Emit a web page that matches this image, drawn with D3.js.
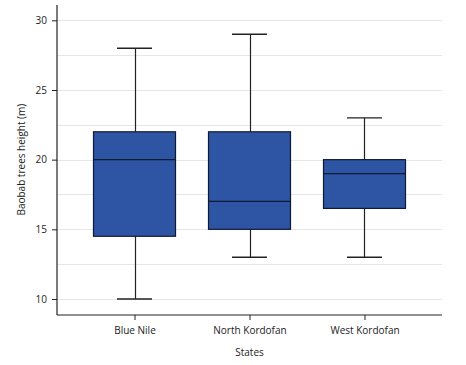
<!DOCTYPE html>
<html>
<head>
<meta charset="utf-8">
<script src="https://cdn.jsdelivr.net/npm/d3@7"></script>
<style>
  body { margin: 0; background: #fff; }
  text { font-family: "Open Sans", "Noto Sans", sans-serif; fill: #222; }
</style>
</head>
<body>
<div id="chart"></div>
<script>
// Chart data
var states = ["Blue Nile", "North Kordofan", "West Kordofan"];
var minVals = [10, 13, 13];
var q1Vals = [14.5, 15, 16.5];
var medianVals = [20, 17, 19];
var q3Vals = [22, 22, 20];
var maxVals = [28, 29, 23];
var yTicks = [10, 15, 20, 25, 30];
var gridVals = [10, 12.5, 15, 17.5, 20, 22.5, 25, 27.5, 30];

var width = 466,
    height = 365;

var margin = { left: 57, right: 24, top: 5, bottom: 50 };

var svg = d3.select("#chart").append("svg")
    .attr("width", width)
    .attr("height", height);

var x = d3.scalePoint()
    .domain(states)
    .range([margin.left, width - margin.right])
    .padding(0.674);

var y = d3.scaleLinear()
    .domain([8.85, 31.1])
    .range([height - margin.bottom, margin.top]);

// Grid lines
svg.append("g")
  .selectAll("line")
  .data(gridVals)
  .enter().append("line")
    .attr("x1", margin.left)
    .attr("x2", width - margin.right)
    .attr("y1", function(d) { return Math.round(y(d)) + 0.5; })
    .attr("y2", function(d) { return Math.round(y(d)) + 0.5; })
    .style("stroke", "#e6e6e6")
    .style("stroke-width", 1);

// Build the rows for the boxes
var rows = states.map(function(s, i) {
  return { name: s, min: minVals[i], q1: q1Vals[i], med: medianVals[i], q3: q3Vals[i], max: maxVals[i] };
});

var boxWidth = 82,
    capWidth = 35;

var boxes = svg.append("g").selectAll("g")
  .data(rows)
  .enter().append("g");

// whisker stems
boxes.append("line")
    .attr("x1", function(d) { return Math.round(x(d.name)) + 0.5; })
    .attr("x2", function(d) { return Math.round(x(d.name)) + 0.5; })
    .attr("y1", function(d) { return y(d.min); })
    .attr("y2", function(d) { return y(d.max); })
    .style("stroke", "#222")
    .style("stroke-width", 1.2);

// caps
["min", "max"].forEach(function(k) {
  boxes.append("line")
    .attr("x1", function(d) { return x(d.name) - capWidth / 2; })
    .attr("x2", function(d) { return x(d.name) + capWidth / 2; })
    .attr("y1", function(d) { return y(d[k]); })
    .attr("y2", function(d) { return y(d[k]); })
    .style("stroke", "#222")
    .style("stroke-width", 1.4);
});

boxes.append("rect")
    .attr("x", function(d) { return x(d.name) - boxWidth / 2; })
    .attr("y", function(d) { return y(d.q3); })
    .attr("width", boxWidth)
    .attr("height", function(d) { return y(d.q1) - y(d.q3); })
    .style("fill", "#2e54a4")
    .style("stroke", "#111a33")
    .style("stroke-width", 1.2);

boxes.append("line")
    .attr("x1", function(d) { return x(d.name) - boxWidth / 2; })
    .attr("x2", function(d) { return x(d.name) + boxWidth / 2; })
    .attr("y1", function(d) { return y(d.med); })
    .attr("y2", function(d) { return y(d.med); })
    .style("stroke", "#111a33")
    .style("stroke-width", 1.2);

// Axes
var yAxis = svg.append("g")
    .attr("transform", "translate(" + margin.left + ",0)")
    .call(d3.axisLeft(y).tickValues(yTicks).tickSize(5).tickPadding(5));

var xAxis = svg.append("g")
    .attr("transform", "translate(0," + (height - margin.bottom) + ")")
    .call(d3.axisBottom(x).tickSize(5).tickPadding(7));

[xAxis, yAxis].forEach(function(a) {
  a.select(".domain").style("stroke", "#222").style("stroke-width", 1.2);
  a.selectAll(".tick line").style("stroke", "#222");
  a.selectAll(".tick text").style("font-size", "10px").style("fill", "#222");
});
xAxis.select(".domain").attr("d", "M" + margin.left + ",0H" + (width - margin.right));
yAxis.select(".domain").attr("d", "M0," + margin.top + "V" + (height - margin.bottom));

// Axis titles
svg.append("text")
    .attr("x", x("North Kordofan"))
    .attr("y", 356)
    .attr("text-anchor", "middle")
    .style("font-size", "10px")
    .text("States");

svg.append("text")
    .attr("transform", "translate(25," + y(20) + ") rotate(-90)")
    .attr("text-anchor", "middle")
    .style("font-size", "10px")
    .text("Baobab trees height (m)");
</script>
</body>
</html>
